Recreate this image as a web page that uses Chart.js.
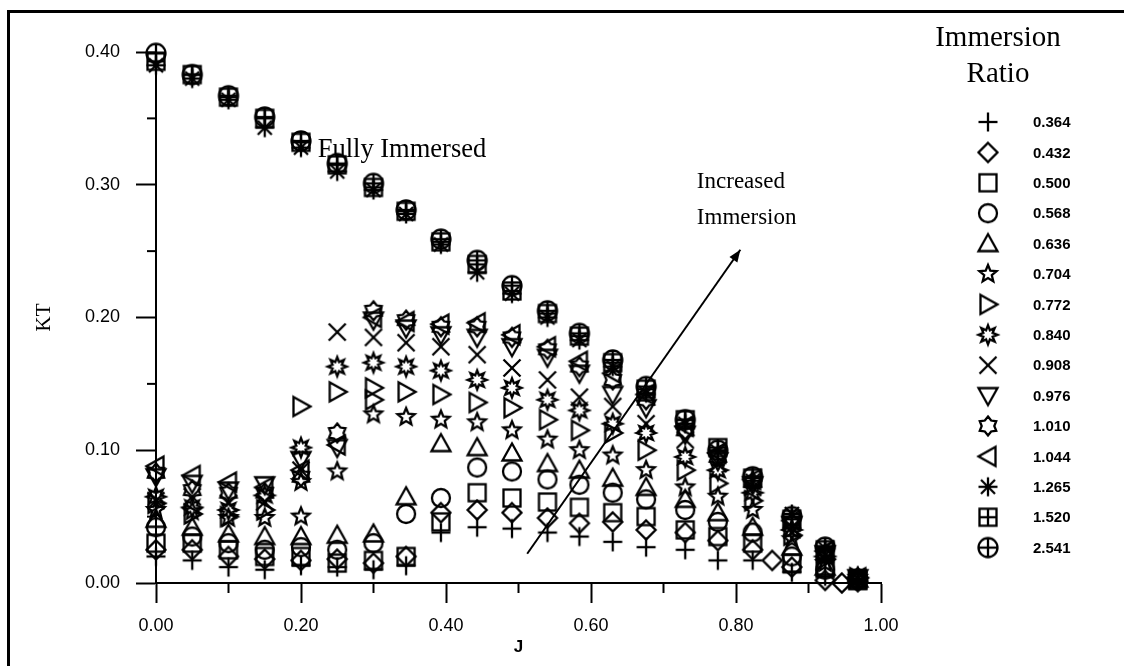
<!DOCTYPE html>
<html>
<head>
<meta charset="utf-8">
<script src="https://cdn.jsdelivr.net/npm/chart.js@4.4.1/dist/chart.umd.min.js"></script>
<style>
  html, body { margin: 0; padding: 0; background: #fff; overflow: hidden; }
  #wrap { position: relative; width: 1124px; height: 666px; }
  #frame { position: absolute; left: 7px; top: 10px; width: 2000px; height: 2000px;
           border-top: 3px solid #000; border-left: 3px solid #000; box-sizing: border-box; pointer-events: none; }
  canvas { position: absolute; left: 0; top: 0; }
</style>
</head>
<body>
<div id="wrap">
  <canvas id="c" width="1124" height="666"></canvas>
  <div id="frame"></div>
</div>
<script>
// ---------- data ----------
const J = [0.00, 0.05, 0.10, 0.15, 0.20, 0.25, 0.30, 0.345, 0.393, 0.443, 0.491, 0.540, 0.584, 0.630, 0.676, 0.730, 0.775, 0.823, 0.877, 0.923, 0.968];

const ratios = ['0.364','0.432','0.500','0.568','0.636','0.704','0.772','0.840','0.908','0.976','1.010','1.044','1.265','1.520','2.541'];

const kt_0364 = [0.020,0.017,0.012,0.010,0.013,0.012,0.010,0.013,0.038,0.042,0.041,0.038,0.035,0.031,0.027,0.025,0.017,0.017,0.008,0.005,0.002];
const kt_0432 = [0.025,0.025,0.020,0.018,0.017,0.018,0.015,0.020,0.053,0.055,0.053,0.049,0.045,0.046,0.040,0.038,0.032,0.025,0.012,0.002,0.001];
const kt_0500 = [0.030,0.030,0.025,0.020,0.020,0.015,0.017,0.020,0.046,0.068,0.064,0.061,0.057,0.053,0.050,0.040,0.035,0.030,0.015,0.011,0.002];
const kt_0568 = [0.042,0.035,0.030,0.025,0.027,0.025,0.030,0.052,0.064,0.087,0.084,0.078,0.074,0.068,0.063,0.055,0.046,0.038,0.020,0.010,0.003];
const kt_0636 = [0.048,0.042,0.037,0.035,0.035,0.036,0.037,0.065,0.105,0.102,0.098,0.090,0.085,0.079,0.072,0.063,0.053,0.042,0.027,0.012,0.003];
const kt_0704 = [0.055,0.054,0.049,0.049,0.050,0.084,0.127,0.125,0.123,0.121,0.115,0.108,0.100,0.096,0.085,0.072,0.065,0.055,0.033,0.015,0.004];
const kt_0772 = [0.060,0.052,0.050,0.055,0.133,0.144,0.147,0.144,0.142,0.136,0.132,0.123,0.115,0.113,0.100,0.085,0.075,0.062,0.036,0.018,0.004];
const kt_0840 = [0.065,0.057,0.055,0.066,0.102,0.163,0.166,0.163,0.160,0.153,0.147,0.138,0.130,0.120,0.113,0.095,0.085,0.068,0.040,0.020,0.004];
const kt_0908 = [0.062,0.065,0.060,0.061,0.085,0.189,0.185,0.181,0.178,0.172,0.162,0.153,0.140,0.133,0.120,0.108,0.090,0.072,0.042,0.021,0.004];
const kt_0976 = [0.080,0.075,0.070,0.074,0.093,0.102,0.198,0.192,0.187,0.185,0.178,0.170,0.158,0.142,0.132,0.112,0.092,0.074,0.044,0.022,0.004];
const kt_1010 = [0.083,0.070,0.068,0.068,0.080,0.113,0.205,0.198,0.193,0.193,0.185,0.176,0.163,0.153,0.138,0.115,0.095,0.076,0.045,0.022,0.004];
const kt_1044 = [0.088,0.081,0.076,0.072,0.085,0.104,0.200,0.197,0.195,0.196,0.187,0.178,0.167,0.158,0.142,0.118,0.098,0.078,0.047,0.024,0.004];
const kt_1265 = [0.390,0.380,0.364,0.343,0.328,0.310,0.296,0.278,0.255,0.234,0.218,0.200,0.183,0.163,0.143,0.120,0.099,0.077,0.052,0.026,0.003];
const kt_1520 = [0.393,0.383,0.366,0.350,0.332,0.315,0.298,0.280,0.257,0.240,0.220,0.203,0.186,0.166,0.146,0.123,0.102,0.079,0.048,0.025,0.002];
const kt_2541 = [0.399,0.383,0.367,0.351,0.333,0.316,0.301,0.281,0.259,0.243,0.224,0.205,0.188,0.168,0.148,0.123,0.100,0.080,0.050,0.027,0.003];

// extra repeated measurements: [series ratio, J, KT]
const extraPoints = [
  ['0.704', 0.20, 0.076],
  ['0.772', 0.30, 0.138],
  ['0.432', 0.850, 0.017],
  ['0.432', 0.946, 0.000]
];

const xTicks = [0.0, 0.2, 0.4, 0.6, 0.8, 1.0];
const yTicks = [0.0, 0.1, 0.2, 0.3, 0.4];
const xMinor = [0.1, 0.3, 0.5, 0.7, 0.9];
const yMinor = [0.05, 0.15, 0.25, 0.35];

// annotations in data coordinates
const arrowFrom = [0.512, 0.022];
const arrowTo = [0.806, 0.251];
const noteFully = {text: 'Fully Immersed', j: 0.223, kt: 0.326};
const noteInc = [{text: 'Increased', j: 0.746, kt: 0.302}, {text: 'Immersion', j: 0.746, kt: 0.275}];

const seriesKT = [kt_0364,kt_0432,kt_0500,kt_0568,kt_0636,kt_0704,kt_0772,kt_0840,kt_0908,kt_0976,kt_1010,kt_1044,kt_1265,kt_1520,kt_2541];

// ---------- marker images ----------
function makeMarker(kind) {
  const S = 26, c = S / 2;
  const cv = document.createElement('canvas');
  cv.width = S; cv.height = S;
  const g = cv.getContext('2d');
  g.strokeStyle = '#000'; g.lineWidth = 2.3; g.lineJoin = 'miter';
  const poly = (pts) => { g.beginPath(); g.moveTo(pts[0][0], pts[0][1]); for (let i = 1; i < pts.length; i++) g.lineTo(pts[i][0], pts[i][1]); g.closePath(); g.stroke(); };
  const star = (n, ro, ri, rot) => { const p = []; for (let i = 0; i < 2 * n; i++) { const r = i % 2 ? ri : ro; const a = rot + i * Math.PI / n; p.push([c + r * Math.sin(a), c - r * Math.cos(a)]); } poly(p); };
  const line = (x1, y1, x2, y2) => { g.beginPath(); g.moveTo(x1, y1); g.lineTo(x2, y2); g.stroke(); };
  switch (kind) {
    case 'plus': line(c - 9.5, c, c + 9.5, c); line(c, c - 9.5, c, c + 9.5); break;
    case 'diamond': poly([[c, c - 9.5], [c + 9.5, c], [c, c + 9.5], [c - 9.5, c]]); break;
    case 'square': g.strokeRect(c - 8.5, c - 8.5, 17, 17); break;
    case 'circle': g.beginPath(); g.arc(c, c, 9, 0, Math.PI * 2); g.stroke(); break;
    case 'triUp': poly([[c, c - 9.5], [c + 9.5, c + 7.5], [c - 9.5, c + 7.5]]); break;
    case 'star5': star(5, 9, 4, 0); break;
    case 'triRight': poly([[c - 7.5, c - 9.5], [c + 9.5, c], [c - 7.5, c + 9.5]]); break;
    case 'burst': star(8, 9.5, 5, 0); break;
    case 'cross': line(c - 8.5, c - 8.5, c + 8.5, c + 8.5); line(c - 8.5, c + 8.5, c + 8.5, c - 8.5); break;
    case 'triDown': poly([[c - 9.5, c - 7.5], [c + 9.5, c - 7.5], [c, c + 9.5]]); break;
    case 'star6': star(6, 9.5, 6.3, 0); break;
    case 'triLeft': poly([[c + 7.5, c - 9.5], [c + 7.5, c + 9.5], [c - 9.5, c]]); break;
    case 'asterisk': line(c - 9.5, c, c + 9.5, c); line(c, c - 9.5, c, c + 9.5); line(c - 7, c - 7, c + 7, c + 7); line(c - 7, c + 7, c + 7, c - 7); break;
    case 'boxPlus': g.strokeRect(c - 8.5, c - 8.5, 17, 17); line(c - 8.5, c, c + 8.5, c); line(c, c - 8.5, c, c + 8.5); break;
    case 'circPlus': g.beginPath(); g.arc(c, c, 9.5, 0, Math.PI * 2); g.stroke(); line(c - 9.5, c, c + 9.5, c); line(c, c - 9.5, c, c + 9.5); break;
  }
  return cv;
}
const markerKinds = ['plus','diamond','square','circle','triUp','star5','triRight','burst','cross','triDown','star6','triLeft','asterisk','boxPlus','circPlus'];
const markers = markerKinds.map(makeMarker);

// ---------- datasets ----------
const datasets = ratios.map((r, i) => {
  const pts = [];
  J.forEach((j, k) => { if (seriesKT[i][k] !== null) pts.push({x: j, y: seriesKT[i][k]}); });
  extraPoints.filter(e => e[0] === r).forEach(e => pts.push({x: e[1], y: e[2]}));
  return { label: r, data: pts, pointStyle: markers[i], pointRadius: 10, borderColor: '#000', backgroundColor: 'rgba(0,0,0,0)', showLine: false, clip: false };
});

// ---------- decoration plugin ----------
const decor = {
  id: 'decor',
  afterDraw(chart) {
    const {ctx, chartArea: a, scales: {x, y}} = chart;
    ctx.save();
    ctx.strokeStyle = '#000'; ctx.fillStyle = '#000'; ctx.lineWidth = 2;
    // minor ticks
    yMinor.forEach(v => { const p = y.getPixelForValue(v); ctx.beginPath(); ctx.moveTo(a.left - 9, p); ctx.lineTo(a.left, p); ctx.stroke(); });
    xMinor.forEach(v => { const p = x.getPixelForValue(v); ctx.beginPath(); ctx.moveTo(p, a.bottom); ctx.lineTo(p, a.bottom + 10); ctx.stroke(); });
    // arrow
    const x1 = x.getPixelForValue(arrowFrom[0]), y1 = y.getPixelForValue(arrowFrom[1]);
    const x2 = x.getPixelForValue(arrowTo[0]), y2 = y.getPixelForValue(arrowTo[1]);
    ctx.lineWidth = 2;
    ctx.beginPath(); ctx.moveTo(x1, y1); ctx.lineTo(x2, y2); ctx.stroke();
    const ang = Math.atan2(y2 - y1, x2 - x1), L = 13, W = 0.38;
    ctx.beginPath(); ctx.moveTo(x2, y2);
    ctx.lineTo(x2 - L * Math.cos(ang - W), y2 - L * Math.sin(ang - W));
    ctx.lineTo(x2 - L * Math.cos(ang + W), y2 - L * Math.sin(ang + W));
    ctx.closePath(); ctx.fill();
    // annotation texts
    ctx.textBaseline = 'middle'; ctx.textAlign = 'left';
    ctx.font = '26.5px "Liberation Serif", "Times New Roman", serif';
    ctx.fillText(noteFully.text, x.getPixelForValue(noteFully.j), y.getPixelForValue(noteFully.kt));
    ctx.font = '23px "Liberation Serif", "Times New Roman", serif';
    noteInc.forEach(n => ctx.fillText(n.text, x.getPixelForValue(n.j), y.getPixelForValue(n.kt)));
    // legend
    ctx.textAlign = 'center';
    ctx.font = '29px "Liberation Serif", "Times New Roman", serif';
    ctx.fillText('Immersion', 998, 38);
    ctx.fillText('Ratio', 998, 74);
    ctx.textAlign = 'left';
    ctx.font = 'bold 15px "Liberation Sans", Arial, sans-serif';
    chart.data.datasets.forEach((ds, i) => {
      const yy = 122 + i * 30.4;
      const m = ds.pointStyle;
      ctx.drawImage(m, 988 - m.width / 2, yy - m.height / 2);
      ctx.fillText(ds.label, 1033, yy + 1);
    });
    ctx.restore();
  }
};

const tickFont = {family: '"Liberation Sans", Arial, sans-serif', size: 18};

new Chart(document.getElementById('c'), {
  type: 'scatter',
  data: { datasets },
  options: {
    responsive: false,
    animation: false,
    layout: { padding: { left: 0, top: 52, right: 243, bottom: 0 } },
    plugins: { legend: { display: false }, tooltip: { enabled: false } },
    scales: {
      x: {
        type: 'linear', min: 0, max: 1.0,
        afterFit(s) { s.height = 83; },
        afterBuildTicks(s) { s.ticks = xTicks.map(v => ({value: v})); },
        border: { display: true, width: 2, color: '#000' },
        grid: { drawOnChartArea: false, drawTicks: true, tickLength: 20, tickWidth: 2, tickColor: '#000' },
        ticks: { color: '#000', font: tickFont, padding: 12, callback: v => Number(v).toFixed(2), maxRotation: 0 },
        title: { display: true, text: 'J', color: '#000', font: {family: '"Liberation Sans", Arial, sans-serif', size: 17, weight: 'bold'}, padding: {top: 0, bottom: 8} }
      },
      y: {
        type: 'linear', min: 0, max: 0.4,
        afterFit(s) { s.width = 156; },
        afterBuildTicks(s) { s.ticks = yTicks.map(v => ({value: v})); },
        border: { display: true, width: 2, color: '#000' },
        grid: { drawOnChartArea: false, drawTicks: true, tickLength: 20, tickWidth: 2, tickColor: '#000' },
        ticks: { color: '#000', font: tickFont, padding: 16, callback: v => Number(v).toFixed(2) },
        title: { display: true, text: 'KT', color: '#000', font: {family: '"Liberation Serif", "Times New Roman", serif', size: 21}, padding: {top: 32, bottom: 0} }
      }
    }
  },
  plugins: [decor]
});
</script>
</body>
</html>
